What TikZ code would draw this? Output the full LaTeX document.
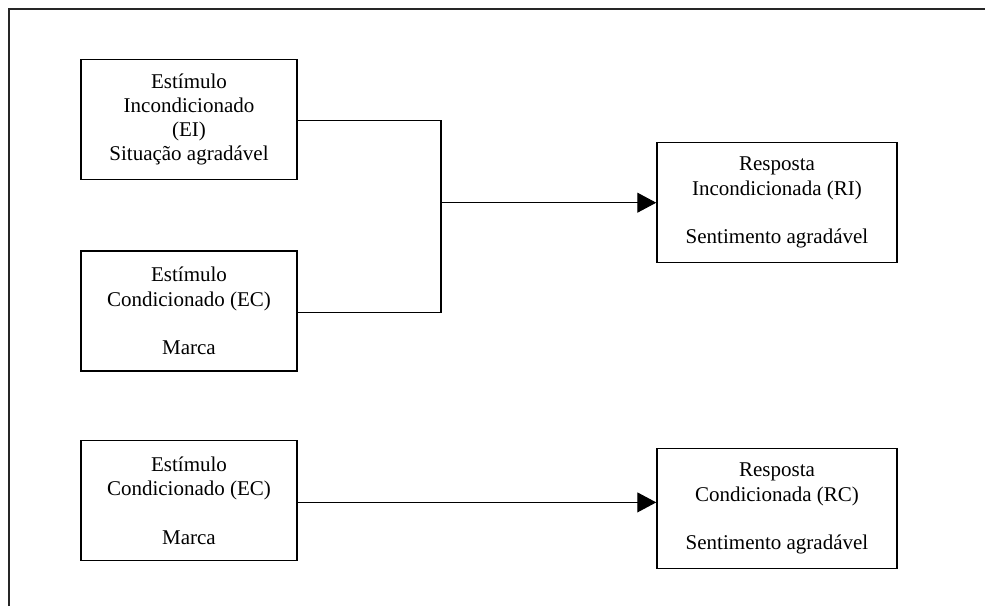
\documentclass[tikz,border=0pt]{standalone}
\usepackage{fontspec}
\setmainfont{Liberation Serif}
\usetikzlibrary{arrows.meta}
\begin{document}
\begin{tikzpicture}[x=1pt,y=-1pt,
  boxl/.style={draw,line width=1.5pt,rectangle,minimum width=216pt,minimum height=120pt,align=center,inner sep=2pt,font=\fontsize{21}{24.3}\selectfont},
  boxr/.style={boxl,minimum width=240pt},
  conn/.style={line width=1.1pt},
  arr/.style={conn,-{Triangle[length=19pt,width=20pt]}}]
\useasboundingbox (0,0) rectangle (985,606);
\draw[line width=1.2pt,black!85] (9,606) coordinate (fbl) -- (9,9) coordinate (ftl) -- (985,9) coordinate (ftr);
\node[boxl] (ei) at (189,119.5) {Estímulo\\Incondicionado\\(EI)\\Situação agradável};
\node[boxl] (ec1) at (189,311) {Estímulo\\Condicionado (EC)\\[24.3pt]Marca};
\node[boxl] (ec2) at (189,500.7) {Estímulo\\Condicionado (EC)\\[24.3pt]Marca};
\node[boxr] (ri) at (777,202.7) {Resposta\\Incondicionada (RI)\\[24.3pt]Sentimento agradável};
\node[boxr] (rc) at (777,508.7) {Resposta\\Condicionada (RC)\\[24.3pt]Sentimento agradável};
\coordinate (j) at (441,203);
\draw[conn] ([yshift=-1pt]ei.east) -| ([yshift=-1.5pt]j |- ec1.east) -- ([yshift=-1.5pt]ec1.east);
\draw[arr] (j |- ri.west) -- (ri.west);
\draw[arr] ([yshift=-1.7pt]ec2.east) -- ([yshift=-1.7pt]ec2.east -| rc.west);
\end{tikzpicture}
\end{document}
